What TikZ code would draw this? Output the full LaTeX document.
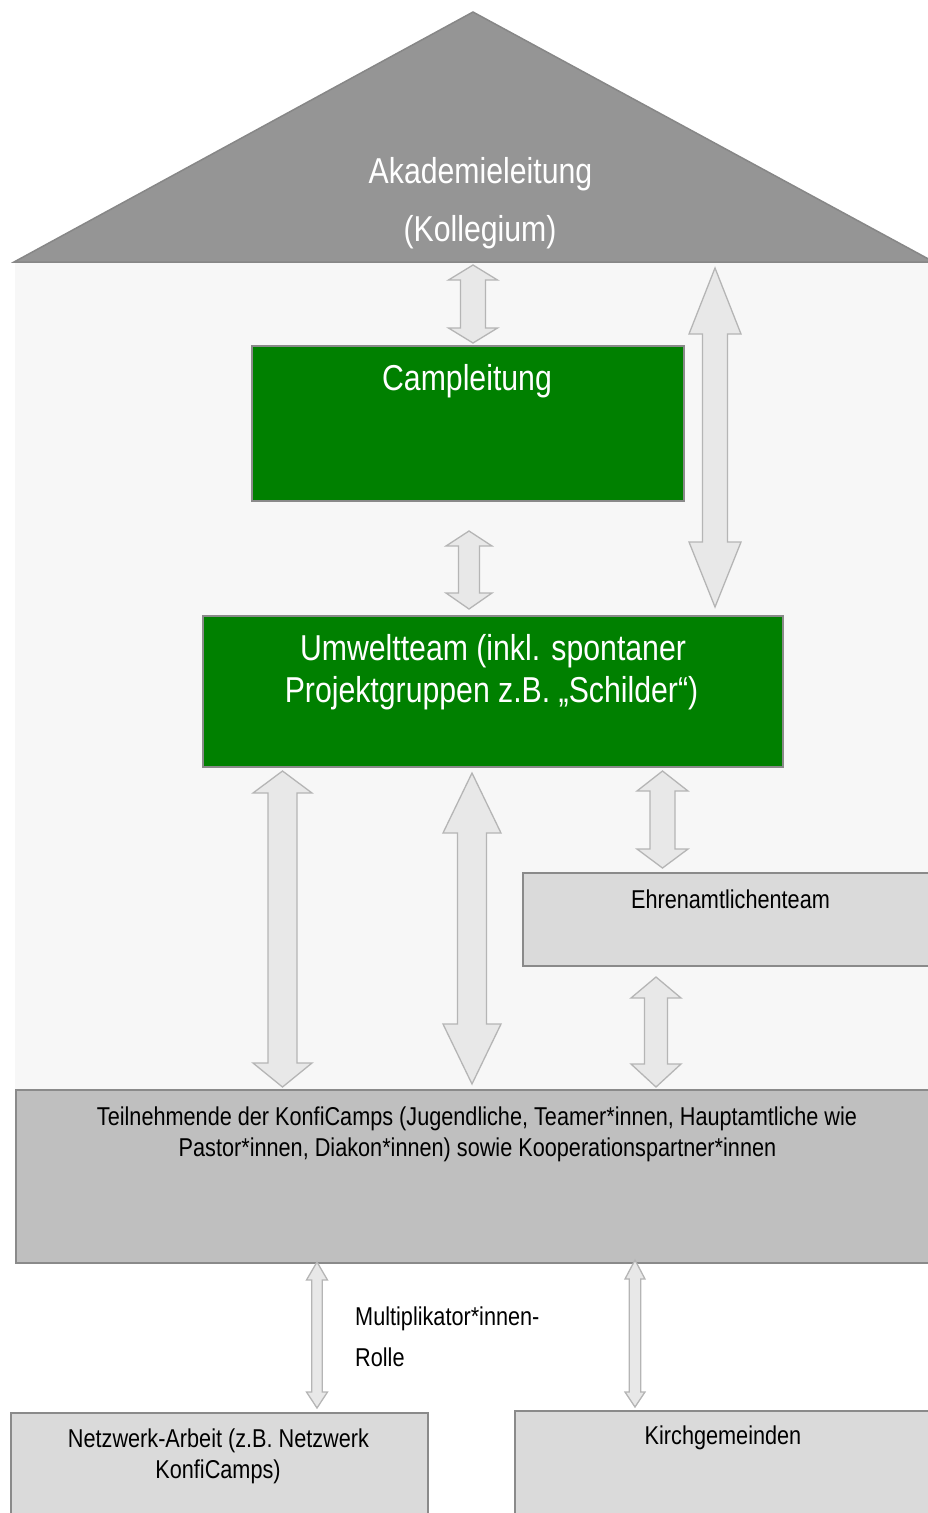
\documentclass[tikz,border=0pt]{standalone}
\usepackage{fontspec}
\setmainfont[FakeStretch=0.84]{Liberation Sans}
\usetikzlibrary{calc}
\definecolor{roof}{HTML}{959595}
\definecolor{roofline}{HTML}{878787}
\definecolor{panel}{HTML}{F7F7F7}
\definecolor{camp}{HTML}{008000}
\definecolor{boxline}{HTML}{8A8A8A}
\definecolor{lightbox}{HTML}{DADADA}
\definecolor{midbox}{HTML}{BFBFBF}
\definecolor{arrfill}{HTML}{E8E8E8}
\definecolor{arrline}{HTML}{B5B5B5}
\tikzset{
  box/.style={draw=boxline, line width=1.5pt, inner sep=0pt, anchor=north west},
  greenbox/.style={box, fill=camp},
  lightgreybox/.style={box, fill=lightbox},
  midgreybox/.style={box, fill=midbox},
  bigtext/.style={text=white, font=\fontsize{36}{42}\selectfont, inner sep=0pt, anchor=base},
  smalltext/.style={text=black, font=\fontsize{25.8}{31}\selectfont, inner sep=0pt, anchor=base},
  blockarrow/.style={fill=arrfill, draw=arrline, line width=1.3pt, line join=miter},
}
% name, x, ytop, ybot, headhalf, shafthalf, headlen top, headlen bottom
\newcommand\dblarr[8]{%
  \coordinate (#1-t) at (#2,#3);
  \coordinate (#1-b) at (#2,#4);
  \draw[blockarrow] (#1-t) -- ($(#1-t)+(#5,#7)$) -- ($(#1-t)+(#6,#7)$)
    -- ($(#1-b)+(#6,-#8)$) -- ($(#1-b)+(#5,-#8)$) -- (#1-b)
    -- ($(#1-b)+(-#5,-#8)$) -- ($(#1-b)+(-#6,-#8)$)
    -- ($(#1-t)+(-#6,#7)$) -- ($(#1-t)+(-#5,#7)$) -- cycle;
}
\begin{document}
\begin{tikzpicture}[x=1pt,y=-1pt]
\useasboundingbox (0,0) rectangle (928,1513);
\clip (0,0) rectangle (928,1513);
% background panel
\fill[panel] (15,262) rectangle (940,1089);
% roof
\coordinate (roofL) at (14,262);
\coordinate (roofT) at (473,12);
\coordinate (roofR) at (934,262);
\filldraw[fill=roof, draw=roofline, line width=1.5pt, line join=miter] (roofL) -- (roofT) -- (roofR) -- cycle;
\node[bigtext] (akad1) at (480.5,183) {Akademieleitung};
\node[bigtext] (akad2) at (480,241) {(Kollegium)};
% boxes
\node[greenbox, minimum width=432pt, minimum height=155pt] (camp) at (251,345) {};
\node[bigtext] (camptext) at (467,390) {Campleitung};
\node[greenbox, minimum width=580pt, minimum height=151pt] (umwelt) at (202,615) {};
\node[bigtext] (umw1) at (493,660) {Umweltteam (inkl. spontaner};
\node[bigtext] (umw2) at (491.5,702) {Projektgruppen z.B. „Schilder“)};
\node[lightgreybox, minimum width=420pt, minimum height=93pt] (ehren) at (522,872) {};
\node[smalltext] (ehrentext) at (730.5,908) {Ehrenamtlichenteam};
\node[midgreybox, minimum width=925pt, minimum height=173pt] (teil) at (15,1089) {};
\node[smalltext] (teil1) at (477,1125) {Teilnehmende der KonfiCamps (Jugendliche, Teamer*innen, Hauptamtliche wie};
\node[smalltext] (teil2) at (477.5,1156) {Pastor*innen, Diakon*innen) sowie Kooperationspartner*innen};
\node[lightgreybox, minimum width=417pt, minimum height=120pt] (netz) at (10,1412) {};
\node[smalltext] (netz1) at (218.5,1447) {Netzwerk-Arbeit (z.B. Netzwerk};
\node[smalltext] (netz2) at (218,1478) {KonfiCamps)};
\node[lightgreybox, minimum width=430pt, minimum height=120pt] (kirch) at (514,1410) {};
\node[smalltext] (kirchtext) at (723,1444) {Kirchgemeinden};
\node[smalltext, anchor=base west] (multi1) at (355,1325) {Multiplikator*innen-};
\node[smalltext, anchor=base west] (multi2) at (355,1366) {Rolle};
% arrows
\dblarr{a1}{473}{265}{343}{24.5}{12.5}{15}{15}
\dblarr{a2}{715}{268}{607}{26}{12.5}{66}{65}
\dblarr{a3}{469}{531}{609}{23}{10.5}{15}{16}
\dblarr{a4}{282.5}{771}{1087}{29.5}{14.5}{22}{24}
\dblarr{a5}{472}{773}{1084}{29}{14.5}{60}{60}
\dblarr{a6}{662.5}{771}{868}{25.5}{12.5}{20}{19}
\dblarr{a7}{656}{977}{1087}{25}{11.5}{21}{23}
\dblarr{a8}{317}{1262}{1408}{10.5}{5.3}{18}{16}
\dblarr{a9}{635}{1260}{1407}{10}{5.7}{19}{15}
\end{tikzpicture}
\end{document}
